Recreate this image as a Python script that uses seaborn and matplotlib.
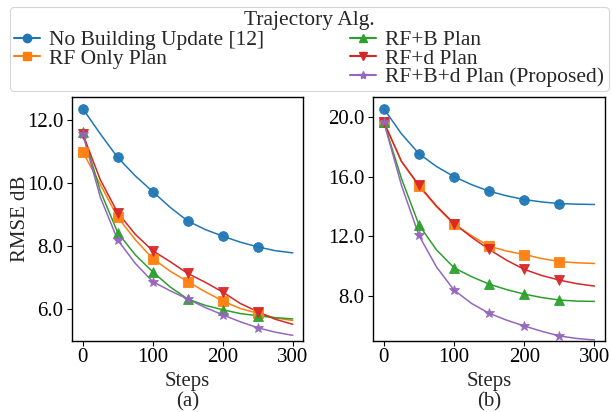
import matplotlib
matplotlib.use("Agg")
import matplotlib.pyplot as plt
from matplotlib.lines import Line2D
import seaborn as sns
import pandas as pd

steps = [0, 25, 50, 75, 100, 125, 150, 175, 200, 225, 250, 275, 300]

series_names = ["No Building Update [12]", "RF Only Plan", "RF+B Plan",
                "RF+d Plan", "RF+B+d Plan (Proposed)"]

# Panel (a)
a_no_building = [12.35, 11.55, 10.80, 10.22, 9.72, 9.22, 8.79, 8.52, 8.31, 8.12, 7.97, 7.85, 7.78]
a_rf_only = [10.98, 9.95, 8.91, 8.20, 7.60, 7.20, 6.87, 6.55, 6.26, 6.02, 5.87, 5.72, 5.64]
a_rf_b = [11.60, 9.75, 8.42, 7.72, 7.18, 6.70, 6.32, 6.12, 5.98, 5.86, 5.79, 5.73, 5.69]
a_rf_d = [11.55, 10.10, 9.05, 8.37, 7.85, 7.50, 7.13, 6.85, 6.54, 6.18, 5.92, 5.68, 5.52]
a_rf_b_d = [11.55, 9.55, 8.19, 7.45, 6.87, 6.58, 6.32, 6.05, 5.82, 5.60, 5.41, 5.27, 5.17]

# Panel (b)
b_no_building = [20.58, 18.90, 17.56, 16.70, 16.02, 15.48, 15.04, 14.73, 14.48, 14.32, 14.21, 14.17, 14.15]
b_rf_only = [19.69, 17.05, 15.37, 14.00, 12.83, 12.05, 11.35, 11.02, 10.79, 10.52, 10.32, 10.23, 10.19]
b_rf_b = [19.69, 15.90, 12.78, 11.10, 9.90, 9.30, 8.80, 8.43, 8.13, 7.90, 7.73, 7.66, 7.64]
b_rf_d = [19.69, 17.05, 15.44, 14.05, 12.87, 11.95, 11.13, 10.40, 9.79, 9.38, 9.07, 8.83, 8.67]
b_rf_b_d = [19.69, 15.45, 12.07, 9.95, 8.40, 7.50, 6.84, 6.38, 5.99, 5.63, 5.32, 5.15, 5.05]

yticks_a = [6.0, 8.0, 10.0, 12.0]
yticks_b = [8.0, 12.0, 16.0, 20.0]
xticks = [0, 100, 200, 300]

sns.set_theme(style="white")
plt.rcParams["font.family"] = ["Liberation Serif", "DejaVu Serif"]

colors = ["#1f77b4", "#ff7f0e", "#2ca02c", "#d62728", "#9467bd"]
markers = ["o", "s", "^", "v", "*"]
msizes = [7, 7, 7, 7, 7.5]
FS = 15
FS_LEG = 15.5

fig = plt.figure(figsize=(6.12, 4.12), dpi=100)
ax_a = fig.add_axes([0.118, 0.173, 0.3775, 0.592])
ax_b = fig.add_axes([0.610, 0.173, 0.3786, 0.592])


def build(vals):
    rows = []
    for name, v in zip(series_names, vals):
        for s, y in zip(steps, v):
            rows.append({"Steps": s, "RMSE": y, "Alg": name})
    return pd.DataFrame(rows)


panels = [
    (ax_a, [a_no_building, a_rf_only, a_rf_b, a_rf_d, a_rf_b_d], yticks_a, (5.0, 12.72), "(a)"),
    (ax_b, [b_no_building, b_rf_only, b_rf_b, b_rf_d, b_rf_b_d], yticks_b, (5.0, 21.38), "(b)"),
]

for ax, vals, yt, ylim, tag in panels:
    df = build(vals)
    sns.lineplot(data=df, x="Steps", y="RMSE", hue="Alg", hue_order=series_names,
                 palette=colors, ax=ax, legend=False, linewidth=1.1, sort=False)
    mdf = df[(df["Steps"] % 50 == 0) & (df["Steps"] < 300)]
    for name, c, m, ms in zip(series_names, colors, markers, msizes):
        sub = mdf[mdf["Alg"] == name]
        ax.plot(sub["Steps"], sub["RMSE"], linestyle="none", marker=m,
                markersize=ms, color=c, markeredgewidth=0.6, alpha=0.95)
    ax.set_xlim(-15, 315)
    ax.set_ylim(*ylim)
    ax.set_xticks(xticks)
    ax.set_yticks(yt)
    ax.set_yticklabels([f"{t:.1f}" for t in yt])
    ax.tick_params(axis="both", labelsize=FS, length=3.5, width=0.8,
                   direction="out", colors="black", bottom=True, left=True)
    ax.tick_params(axis="y", pad=3)
    ax.tick_params(axis="x", pad=1.5)
    for sp in ax.spines.values():
        sp.set_color("black")
        sp.set_linewidth(1.0)
    ax.set_xlabel("Steps\n" + tag, fontsize=FS, linespacing=1.1, labelpad=4)
    ax.set_ylabel("")

ax_a.set_ylabel("RMSE dB", fontsize=FS, labelpad=-2)

handles = [
    Line2D([], [], color=colors[0], marker=markers[0], markersize=6),
    Line2D([], [], color=colors[1], marker=markers[1], markersize=6),
    Line2D([], [], color="none", marker=None),
    Line2D([], [], color=colors[2], marker=markers[2], markersize=6),
    Line2D([], [], color=colors[3], marker=markers[3], markersize=6),
    Line2D([], [], color=colors[4], marker=markers[4], markersize=6),
]
labels = [series_names[0], series_names[1], "", series_names[2], series_names[3], series_names[4]]

leg = fig.legend(handles, labels, title="Trajectory Alg.", ncol=2,
                 loc="upper left", bbox_to_anchor=(10 / 612, 1 - 7 / 412),
                 bbox_transform=fig.transFigure, borderaxespad=0,
                 fontsize=FS_LEG, title_fontsize=FS_LEG, frameon=True,
                 handlelength=1.2, handletextpad=0.42, columnspacing=4.0,
                 labelspacing=-0.08, borderpad=0.2)
leg.get_frame().set_edgecolor("#cccccc")
leg.get_frame().set_linewidth(0.8)
leg._legend_box.sep = 0

fig.savefig("out.png", dpi=100)
